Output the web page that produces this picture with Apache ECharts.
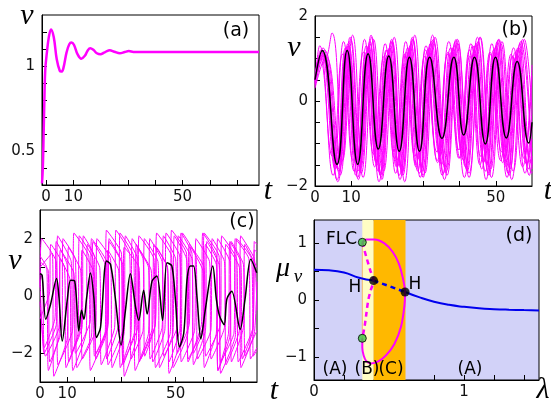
<!DOCTYPE html>
<html>
<head>
<meta charset="utf-8">
<script src="https://cdn.jsdelivr.net/npm/echarts@6/dist/echarts.min.js"></script>
<style>
  html, body { margin: 0; padding: 0; background: #fff; }
  #chart { width: 551px; height: 403px; }
</style>
</head>
<body>
<div id="chart"></div>
<script>
// ---- panel (a): single relaxing trajectory ----
var aTrace = [[-1.5,0.31],[-1.2,0.40],[-0.9,0.60],[-0.6,0.82],[-0.3,0.98],[0.3,1.08],[1.0,1.17],[1.8,1.215],
  [2.8,1.17],[3.9,1.04],[5.0,0.972],[5.6,0.967],[6.3,0.985],[7.5,1.08],[8.5,1.128],[9.3,1.138],[10.2,1.125],
  [11.5,1.07],[12.9,1.043],[14.2,1.06],[15.2,1.09],[16.2,1.104],[17.3,1.095],[18.6,1.075],[19.9,1.069],
  [21.2,1.078],[22.3,1.088],[23.3,1.092],[25.0,1.084],[27.0,1.075],[28.8,1.082],[30.3,1.088],[32,1.083],[40,1.082],[78,1.082]];

// ---- panel (b): synchronised oscillators (magenta) + mean (black) ----
var bMean = [[0,0.5],[2.0,1.19],[6.1,-1.49],[8.9,1.19],[11.8,-1.49],[14.7,1.11],[17.5,-1.13],[20.4,1.06],[23.3,-1.18],
  [26.1,1.03],[28.9,-1.18],[31.7,1.03],[35.1,-0.88],[38.4,1.03],[41.1,-0.80],[44.1,1.03],[47.1,-1.01],[49.9,1.03],
  [52.9,-0.87],[55.9,0.93],[59.1,-0.99],[60,-0.5]];
var bTraces = [
  [[0,0.40],[1.3,1.30],[5.0,-1.75],[7.9,1.40],[10.8,-1.65],[13.7,1.45],[16.5,-1.55],[19.4,1.35],[22.3,-1.70],[25.1,1.40],[27.9,-1.55],[30.7,1.30],[33.9,-1.45],[37.0,1.40],[40.1,-1.35],[43.1,1.35],[46.1,-1.60],[48.9,1.35],[51.9,-1.45],[54.9,1.25],[58.1,-1.70],[60,-0.2]],
  [[0,0.55],[1.6,1.20],[5.6,-1.60],[8.4,1.25],[11.3,-1.75],[14.2,1.30],[17.0,-1.45],[19.9,1.20],[22.8,-1.55],[25.6,1.25],[28.4,-1.65],[31.2,1.20],[34.5,-1.30],[37.5,1.25],[40.6,-1.20],[43.6,1.30],[46.6,-1.45],[49.4,1.20],[52.4,-1.35],[55.4,1.15],[58.6,-1.50],[60,-0.6]],
  [[0,0.50],[2.0,1.15],[6.1,-1.85],[8.9,1.20],[11.8,-1.80],[14.7,1.25],[17.5,-1.65],[20.4,1.15],[23.3,-1.75],[26.1,1.20],[28.9,-1.70],[31.7,1.25],[35.0,-1.50],[38.0,1.15],[41.1,-1.40],[44.1,1.20],[47.1,-1.65],[49.9,1.25],[52.9,-1.55],[55.9,1.10],[59.1,-1.60],[60,-1.1]],
  [[0,0.35],[2.5,1.10],[6.6,-1.65],[9.4,1.30],[12.3,-1.55],[15.2,1.40],[18.0,-1.70],[20.9,1.30],[23.8,-1.60],[26.6,1.35],[29.4,-1.55],[32.2,1.40],[35.5,-1.70],[38.5,1.30],[41.6,-1.55],[44.6,1.35],[47.6,-1.50],[50.4,1.40],[53.4,-1.70],[56.4,1.25],[59.6,-1.45],[60,-1.3]],
  [[0,0.30],[3.0,1.05],[7.1,-1.50],[9.9,1.45],[12.8,-1.70],[15.7,1.50],[18.5,-1.85],[21.4,1.40],[24.3,-1.75],[27.1,1.45],[29.9,-1.80],[32.7,1.45],[36.0,-1.60],[39.0,1.45],[42.1,-1.65],[45.1,1.40],[48.1,-1.75],[50.9,1.45],[53.9,-1.60],[56.9,1.40],[60,-1.5]],
  [[0,0.45],[1.5,1.05],[2.5,0.95],[4.7,1.60],[7.6,-1.40],[10.4,1.55],[13.3,-1.80],[16.2,1.45],[19.0,-1.65],[21.9,1.50],[24.8,-1.90],[27.6,1.55],[30.4,-1.70],[33.2,1.50],[36.5,-1.75],[39.5,1.35],[42.6,-1.80],[45.6,1.50],[48.6,-1.60],[51.4,1.35],[54.4,-1.85],[57.4,1.45],[60,-1.6]],
  [[0,0.60],[1.2,1.05],[4.8,-1.30],[7.6,1.10],[10.5,-1.40],[13.4,1.15],[16.2,-1.25],[19.1,1.05],[22.0,-1.35],[24.8,1.10],[27.6,-1.30],[30.4,1.05],[33.7,-1.20],[36.7,1.10],[39.8,-1.15],[42.8,1.05],[45.8,-1.30],[48.6,1.10],[51.6,-1.20],[54.6,1.05],[57.8,-1.35],[60,0.6]],
  [[0,0.42],[2.2,1.25],[6.3,-1.90],[9.1,1.35],[12.0,-1.85],[14.9,1.30],[17.7,-1.90],[20.6,1.25],[23.5,-1.85],[26.3,1.30],[29.1,-1.80],[31.9,1.35],[35.2,-1.75],[38.2,1.25],[41.3,-1.80],[44.3,1.30],[47.3,-1.85],[50.1,1.30],[53.1,-1.80],[56.1,1.25],[59.3,-1.75],[60,-1.4]],
  [[0,0.50],[1.9,1.15],[5.9,-1.55],[8.6,1.20],[11.4,-1.50],[14.2,1.15],[16.9,-1.45],[19.7,1.20],[22.5,-1.55],[25.2,1.15],[27.9,-1.50],[30.6,1.20],[33.8,-1.40],[36.8,1.15],[39.8,-1.35],[42.7,1.20],[45.6,-1.50],[48.4,1.15],[51.3,-1.40],[54.2,1.10],[57.4,-1.55],[60,0.85]],
  [[0,0.38],[2.1,1.10],[6.3,-1.60],[9.2,1.30],[12.2,-1.65],[15.2,1.35],[18.1,-1.75],[21.1,1.40],[24.1,-1.65],[27.0,1.45],[29.9,-1.75],[32.9,1.35],[36.3,-1.65],[39.4,1.45],[42.6,-1.70],[45.7,1.50],[48.8,-1.80],[51.7,1.40],[54.8,-1.65],[57.9,1.45],[60,-0.2]],
  [[0,0.48],[1.8,1.12],[5.8,-1.45],[8.6,1.15],[11.5,-1.35],[14.4,1.10],[17.2,-1.50],[20.1,1.10],[23.0,-1.40],[25.8,1.15],[28.6,-1.35],[31.4,1.10],[34.7,-1.25],[37.7,1.15],[40.8,-1.30],[43.8,1.10],[46.8,-1.40],[49.6,1.15],[52.6,-1.30],[55.6,1.05],[58.8,-1.45],[60,-0.9]],
  [[0,0.55],[2.6,1.20],[6.9,-1.75],[9.7,1.50],[12.6,-1.60],[15.5,1.55],[18.3,-1.80],[21.2,1.45],[24.1,-1.70],[26.9,1.50],[29.7,-1.65],[32.5,1.55],[35.8,-1.85],[38.8,1.40],[41.9,-1.60],[44.9,1.50],[47.9,-1.70],[50.7,1.45],[53.7,-1.75],[56.7,1.35],[59.9,-1.70],[60,-1.65]]
];

// ---- panel (c): incoherent oscillators + mean ----
var cMean = [[0,0.78],[0.8,0.72],[2.1,-0.81],[3.9,-0.29],[6.1,0.61],[7.0,-0.05],[8.2,-1.57],[10.1,-0.1],[11.3,0.55],
  [12.8,0.52],[14.3,-1.22],[15.3,-0.5],[16.2,-0.81],[17.2,-0.06],[18.6,0.80],[19.9,-0.1],[20.8,-1.45],[22.3,-1.1],
  [24.5,1.22],[26.0,1.10],[27.8,-0.1],[29.9,-1.71],[31.5,-0.5],[33.3,0.78],[35.2,-0.37],[36.4,-0.85],[38.2,0.2],
  [39.5,-0.63],[41.3,0.52],[43.1,0.70],[45.2,-0.85],[46.8,1.16],[48.6,1.05],[49.9,-0.1],[51.4,-1.78],[53.0,-1.3],
  [54.2,0.56],[55.4,1.05],[56.6,1.05],[57.9,-0.06],[59.3,-1.5],[60.9,-0.5],[63.7,1.05],[65.0,-0.1],[66.2,-0.7],
  [67.9,-1.0],[68.9,-0.1],[70.7,0.17],[73.8,-1.16],[75.6,-0.1],[77.7,1.28],[79.9,0.81]];
var cTraces = [
  [[0,1.2],[3,0.9],[3.6,-2.3],[8,-1.2],[8.5,2.0],[13,1.3],[13.6,-2.5],[19,-1.4],[19.5,1.9],[24,1.1],[24.6,-2.2],[29,-1.0],[29.5,2.2],[34.5,1.4],[35.1,-2.6],[40,-1.3],[40.5,2.0],[45,1.2],[45.6,-2.1],[50.5,-1.1],[51,2.1],[56,1.3],[56.6,-2.4],[61,-1.2],[61.5,1.9],[66,1.1],[66.6,-2.3],[71.5,-1.3],[72,2.0],[77,1.3],[77.6,-2.2],[80,-1.8]],
  [[0,0.6],[1.5,-2.0],[6,-1.0],[6.5,2.1],[11.5,1.2],[12.1,-2.6],[17,-1.3],[17.5,1.8],[22,1.0],[22.6,-2.4],[27.5,-1.1],[28,2.3],[33,1.5],[33.6,-2.2],[38,-1.2],[38.5,2.0],[43.5,1.2],[44.1,-2.5],[49,-1.3],[49.5,2.1],[54,1.3],[54.6,-2.3],[59.5,-1.0],[60,2.2],[65,1.4],[65.6,-2.6],[70,-1.4],[70.5,1.9],[75,1.1],[75.6,-2.1],[80,-1.2]],
  [[0,1.0],[4.5,1.5],[5.1,-2.8],[10,-1.5],[10.5,1.7],[15,0.9],[15.6,-2.2],[20.5,-1.2],[21,2.0],[26,1.3],[26.6,-2.5],[31,-1.3],[31.5,2.1],[36,1.3],[36.6,-2.3],[41.5,-1.1],[42,1.8],[47,1.0],[47.6,-2.7],[52,-1.5],[52.5,2.2],[57.5,1.4],[58.1,-2.2],[63,-1.2],[63.5,2.0],[68,1.2],[68.6,-2.4],[73.5,-1.2],[74,2.1],[79,1.3],[80,-0.5]],
  [[0,-0.2],[2,-2.1],[7,-1.1],[7.5,1.6],[12.5,0.8],[13.1,-2.0],[18.5,-0.9],[19,2.0],[24.5,1.2],[25.1,-2.4],[30.5,-1.2],[31,1.7],[36.5,1.0],[37.1,-2.2],[42.5,-1.0],[43,2.2],[48.5,1.4],[49.1,-2.5],[54.5,-1.3],[55,1.8],[60.5,1.0],[61.1,-2.1],[66.5,-1.0],[67,2.1],[72.5,1.3],[73.1,-2.3],[78.5,-1.1],[79,1.9],[80,1.8]],
  [[0,1.4],[2.5,1.0],[3.1,-2.6],[7,-1.4],[7.5,1.3],[11,0.6],[11.6,-2.0],[15.5,-1.1],[16,2.1],[20,1.4],[20.6,-2.2],[24.5,-1.3],[25,1.6],[29,0.9],[29.6,-2.5],[33.5,-1.4],[34,2.0],[38,1.3],[38.6,-2.1],[42.5,-1.0],[43,1.7],[47,1.0],[47.6,-2.3],[51.5,-1.2],[52,2.2],[56,1.5],[56.6,-2.0],[60.5,-1.1],[61,1.8],[65,1.1],[65.6,-2.6],[69.5,-1.3],[70,1.9],[74,1.2],[74.6,-2.2],[78.5,-1.2],[79,1.6],[80,1.55]],
  [[0,0.3],[0.6,2.0],[6,1.2],[6.6,-2.4],[12,-1.2],[12.5,2.2],[18,1.4],[18.6,-2.6],[24,-1.3],[24.5,2.3],[30,1.5],[30.6,-2.3],[36,-1.1],[36.5,2.1],[42,1.3],[42.6,-2.5],[48,-1.3],[48.5,2.3],[54,1.5],[54.6,-2.2],[60,-1.1],[60.5,2.2],[66,1.4],[66.6,-2.7],[72,-1.4],[72.5,2.0],[78,1.3],[78.6,-2.1],[80,-1.9]],
  [[0,0.9],[1,0.5],[1.6,-1.8],[5.5,-0.8],[6,1.9],[10,1.1],[10.6,-2.3],[15,-1.1],[15.5,1.6],[20,0.8],[20.6,-2.0],[25,-1.0],[25.5,2.0],[30,1.2],[30.6,-2.4],[35,-1.2],[35.5,1.8],[40,1.0],[40.6,-2.2],[45,-1.1],[45.5,2.1],[50,1.3],[50.6,-2.0],[55,-1.0],[55.5,1.7],[60,0.9],[60.6,-2.5],[65,-1.3],[65.5,2.0],[70,1.2],[70.6,-2.3],[75,-1.1],[75.5,1.8],[80,1.0]],
  [[0,-0.8],[3.5,0.1],[4,1.8],[9,1.0],[9.6,-2.5],[14,-1.3],[14.5,2.1],[19.5,1.3],[20.1,-2.1],[25,-1.1],[25.5,1.9],[30.5,1.1],[31.1,-2.8],[35.5,-1.5],[36,1.7],[41,0.9],[41.6,-2.3],[46,-1.2],[46.5,2.2],[51.5,1.4],[52.1,-2.3],[57,-1.2],[57.5,2.0],[62.5,1.2],[63.1,-2.2],[68,-1.1],[68.5,1.8],[73.5,1.0],[74.1,-2.5],[79,-1.3],[80,0.5]]
];

// ---- panel (d): bifurcation diagram ----
var dBands = [0.322, 0.397, 0.61];           // (B) from band[0] to band[1], (C) to band[2]
var dFixedLeft = [[0,0.53],[0.1,0.52],[0.2,0.48],[0.3,0.39],[0.397,0.34]];
var dFixedUnstable = [[0.397,0.34],[0.5,0.245],[0.607,0.14]];
var dFixedRight = [[0.607,0.14],[0.7,0.05],[0.8,-0.03],[0.9,-0.085],[1.0,-0.12],[1.1,-0.145],[1.2,-0.16],[1.3,-0.17],[1.4,-0.177],[1.5,-0.182]];
var dCycleStable = [[0.322,-0.67],[0.322,-0.83],[0.331,-0.97],[0.349,-1.07],[0.38,-1.11],[0.426,-1.08],[0.48,-0.97],
  [0.536,-0.77],[0.58,-0.47],[0.603,-0.1],[0.607,0.14],[0.591,0.40],[0.565,0.64],[0.525,0.84],[0.47,0.99],
  [0.404,1.06],[0.349,1.06],[0.322,1.01]];
var dCycleUnstable = [[0.322,1.01],[0.349,0.75],[0.375,0.52],[0.397,0.34],[0.378,0.17],[0.362,0],[0.349,-0.24],[0.338,-0.45],[0.322,-0.67]];
var dFLC = [[0.322,1.01],[0.322,-0.67]];
var dHopf = [[0.397,0.34],[0.607,0.14]];

var MAG = '#ff00ff';
var FONT = 'DejaVu Sans';

function fmt(v) {
    var s = String(Math.round(v * 100) / 100);
    return v < 0 ? '\u2212' + s.slice(1) : s;
}

function axis(grid, min, max, ticks, labels, isY) {
    return {
        type: 'value', gridIndex: grid, min: min, max: max,
        axisLine: {show: true, onZero: false, lineStyle: {color: '#000', width: 1}},
        axisTick: {show: true, inside: true, length: 5, customValues: ticks, lineStyle: {color: '#000'}},
        axisLabel: {show: true, customValues: labels, formatter: fmt, fontSize: 15, color: '#111',
            fontFamily: FONT, margin: isY ? 7 : 5},
        splitLine: {show: false}
    };
}

function line(xi, data, color, width, smooth, extra) {
    var s = {
        type: 'line', xAxisIndex: xi, yAxisIndex: xi, data: data, symbol: 'none',
        smooth: smooth, lineStyle: {color: color, width: width}, silent: true, animation: false
    };
    for (var k in extra) s[k] = extra[k];
    return s;
}

var series = [];
series.push(line(0, aTrace, MAG, 2.5, 0.4));
bTraces.forEach(function (d) { series.push(line(1, d, MAG, 1, true)); });
series.push(line(1, bMean, '#000', 1.5, true));
cTraces.forEach(function (d) { series.push(line(2, d, MAG, 1, 0.15)); });
series.push(line(2, cMean, '#000', 1.5, 0.3));

// panel (d)
series.push({
    type: 'line', xAxisIndex: 3, yAxisIndex: 3, data: [], silent: true, z: 1,
    markArea: {silent: true, data: [
        [{xAxis: dBands[0], itemStyle: {color: '#fffdc4'}}, {xAxis: dBands[1]}],
        [{xAxis: dBands[1], itemStyle: {color: '#ffb800'}}, {xAxis: dBands[2]}]
    ]}
});
series.push(line(3, dFLC, '#f3b86a', 1, false, {z: 3}));
series.push(line(3, dFixedLeft, '#0000ee', 2, true, {z: 4}));
series.push(line(3, dFixedRight, '#0000ee', 2, true, {z: 4}));
series.push(line(3, dFixedUnstable, '#0000ee', 2.5, false, {z: 4, lineStyle: {color: '#0000ee', width: 2.5, type: [5, 4]}}));
series.push(line(3, dCycleStable, MAG, 2, 0.3, {z: 5}));
series.push(line(3, dCycleUnstable, MAG, 2.5, 0.3, {z: 5, lineStyle: {color: MAG, width: 2.5, type: [5, 4]}}));
series.push({type: 'scatter', xAxisIndex: 3, yAxisIndex: 3, data: dFLC, symbolSize: 8, z: 6, silent: true,
    itemStyle: {color: '#3cc43c', borderColor: '#000', borderWidth: 1}});
series.push({type: 'scatter', xAxisIndex: 3, yAxisIndex: 3, data: dHopf, symbolSize: 9, z: 6, silent: true,
    itemStyle: {color: '#000'}});

function txt(x, y, s, font, align) {
    return {type: 'text', x: x, y: y, z: 100, silent: true,
        style: {text: s, font: font, fill: '#000', align: align || 'center', verticalAlign: 'middle'}};
}
var SER = 'italic 30px "Liberation Serif"';
var LBL = '19px ' + FONT;

var chart = echarts.init(document.getElementById('chart'), null, {renderer: 'canvas'});
chart.setOption({
    animation: false,
    grid: [
        {left: 42, top: 15, width: 217, height: 170, show: true, borderColor: '#000', borderWidth: 1},
        {left: 315, top: 16, width: 217, height: 170, show: true, borderColor: '#000', borderWidth: 1},
        {left: 40, top: 210, width: 217, height: 172, show: true, borderColor: '#000', borderWidth: 1},
        {left: 314, top: 220, width: 225, height: 160, show: true, borderColor: '#000', borderWidth: 1,
            backgroundColor: '#d2d2f8'}
    ],
    xAxis: [
        axis(0, -1.5, 78, [0, 10, 20, 30, 40, 50, 60, 70], [0, 10, 50]),
        axis(1, 0, 60, [10, 20, 30, 40, 50], [0, 10, 50]),
        axis(2, 0, 80, [10, 20, 30, 40, 50, 60, 70], [0, 10, 50]),
        axis(3, 0, 1.5, [0.2, 0.4, 0.6, 0.8, 1, 1.2, 1.4], [0, 1])
    ],
    yAxis: [
        axis(0, 0.3, 1.3, [0.4, 0.5, 0.6, 0.7, 0.8, 0.9, 1, 1.1, 1.2], [0.5, 1], true),
        axis(1, -2, 2, [-1.5, -1, -0.5, 0, 0.5, 1, 1.5], [-2, 0, 2], true),
        axis(2, -3, 3, [-2, -1, 0, 1, 2], [-2, 0, 2], true),
        axis(3, -1.4, 1.4, [-1, -0.5, 0, 0.5, 1], [-1, 0, 1], true)
    ],
    series: series,
    graphic: [
        txt(236, 31, '(a)', LBL), txt(515, 30, '(b)', LBL), txt(242, 222, '(c)', LBL), txt(519, 236, '(d)', LBL),
        txt(27, 16, 'v', SER), txt(294, 48, 'v', SER), txt(15, 261, 'v', SER),
        txt(268, 191, 't', SER), txt(548, 191, 't', SER), txt(274, 391, 't', SER),
        txt(283, 269, '\u03bc', 'italic 28px "Liberation Serif"'), txt(298, 277, 'v', 'italic 19px "Liberation Serif"'),
        txt(543, 390, '\u03bb', SER),
        txt(357, 240, 'FLC', '17px ' + FONT, 'right'),
        txt(355, 288, 'H', '17px ' + FONT), txt(415, 285, 'H', '17px ' + FONT),
        txt(335, 370, '(A)', '17px ' + FONT), txt(367, 370, '(B)', '17px ' + FONT),
        txt(391, 370, '(C)', '17px ' + FONT), txt(470, 370, '(A)', '17px ' + FONT)
    ]
});
</script>
</body>
</html>
